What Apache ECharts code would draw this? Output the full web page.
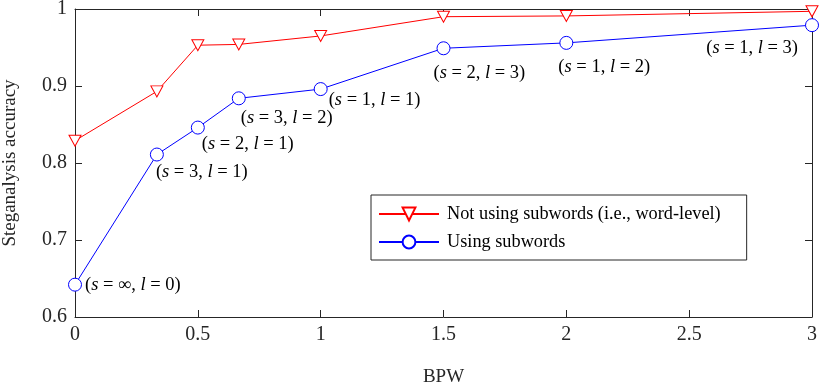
<!DOCTYPE html>
<html><head><meta charset="utf-8">
<script src="https://cdn.jsdelivr.net/npm/echarts@6/dist/echarts.min.js"></script>
<style>html,body{margin:0;padding:0;background:#fff}#c{width:830px;height:391px}</style>
</head><body><div id="c"></div>
<script>
const bpw = [0, 0.3333, 0.5, 0.6667, 1, 1.5, 2, 3];
const wordLevel = [0.829, 0.893, 0.953, 0.954, 0.965, 0.990, 0.991, 0.997];
const subwords = [0.642, 0.811, 0.846, 0.884, 0.896, 0.949, 0.956, 0.979];
const subwordLabels = [
  ['\u221e', '0'], ['3', '1'], ['2', '1'], ['3', '2'],
  ['1', '1'], ['2', '3'], ['1', '2'], ['1', '3']
];
const seriesNames = ['Not using subwords (i.e., word-level)', 'Using subwords'];
const xTitle = 'BPW';
const yTitle = 'Steganalysis accuracy';

const labelPlace = [
  {position: 'right', offset: [3, 0]},
  {position: 'right', offset: [-8, 18]},
  {position: 'right', offset: [-3, 17]},
  {position: 'right', offset: [-5, 20]},
  {position: 'right', offset: [1, 11]},
  {position: 'right', offset: [-17, 25]},
  {position: 'right', offset: [-15, 24]},
  {position: 'left', offset: [-7, 23]}
];

const FONT = 'Liberation Serif';
const AX = '#262626';
const rich = {
  n: {fontFamily: FONT, fontSize: 18.5, color: '#000'},
  i: {fontFamily: FONT, fontSize: 18.5, color: '#000', fontStyle: 'italic'}
};

function axisCommon(showLabel) {
  return {
    type: 'value',
    axisLine: {show: true, onZero: false, lineStyle: {color: AX, width: 1}},
    axisTick: {show: true, inside: true, length: 7, lineStyle: {color: AX}},
    splitLine: {show: false},
    axisLabel: {show: showLabel, fontFamily: FONT, fontSize: 20, color: AX}
  };
}

const chart = echarts.init(document.getElementById('c'));
chart.setOption({
  animation: false,
  backgroundColor: '#fff',
  grid: {left: 75, right: 18, top: 9, bottom: 74, containLabel: false, outerBoundsMode: 'none'},
  xAxis: [
    Object.assign(axisCommon(true), {min: 0, max: 3, interval: 0.5, position: 'bottom',
      name: xTitle, nameLocation: 'middle', nameGap: 51,
      nameTextStyle: {fontFamily: FONT, fontSize: 19, color: AX}}),
    Object.assign(axisCommon(false), {min: 0, max: 3, interval: 0.5, position: 'top'})
  ],
  yAxis: [
    Object.assign(axisCommon(true), {min: 0.6, max: 1, interval: 0.1, position: 'left',
      name: yTitle, nameLocation: 'middle', nameGap: 55,
      nameTextStyle: {fontFamily: FONT, fontSize: 19, color: AX}}),
    Object.assign(axisCommon(false), {min: 0.6, max: 1, interval: 0.1, position: 'right'})
  ],
  legend: {
    orient: 'vertical', left: 371, top: 195,
    backgroundColor: '#fff', borderColor: AX, borderWidth: 1,
    padding: [10, 26, 9, 7], itemGap: 10, itemWidth: 60, itemHeight: 16,
    textStyle: {fontFamily: FONT, fontSize: 18.3, color: '#000', padding: [0, 0, 0, 3]},
    data: seriesNames
  },
  series: [
    {
      name: seriesNames[0], type: 'line',
      data: bpw.map((x, k) => [x, wordLevel[k]]),
      symbol: 'path://M0,0 L12,0 L6,11 Z', symbolSize: [12, 11],
      lineStyle: {color: '#ff0000', width: 1},
      itemStyle: {color: '#fff', borderColor: '#ff0000', borderWidth: 1},
      z: 3
    },
    {
      name: seriesNames[1], type: 'line',
      data: bpw.map((x, k) => ({
        value: [x, subwords[k]],
        label: {show: true, position: labelPlace[k].position, offset: labelPlace[k].offset, distance: 0,
          formatter: '{n|(}{i|s}{n| = ' + subwordLabels[k][0] + ', }{i|l}{n| = ' + subwordLabels[k][1] + ')}',
          rich: rich}
      })),
      symbol: 'circle', symbolSize: 13,
      lineStyle: {color: '#0000ff', width: 1},
      itemStyle: {color: '#fff', borderColor: '#0000ff', borderWidth: 1},
      z: 3
    }
  ]
});
</script></body></html>
